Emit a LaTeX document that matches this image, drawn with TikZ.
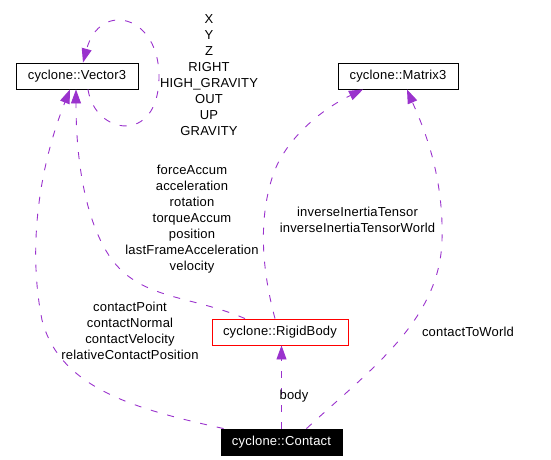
\documentclass[tikz,border=0pt]{standalone}
\usepackage{fontspec}
\setmainfont{Liberation Sans}[LetterSpace=1.5]
\usetikzlibrary{arrows.meta}
\definecolor{orchid}{RGB}{154,50,205}

\begin{document}
\begin{tikzpicture}[x=1pt, y=-1pt,
	classbox/.style={draw, line width=0.9pt, minimum height=26pt, inner sep=0pt, font=\fontsize{13}{16}\selectfont},
	usage/.style={draw=orchid, line width=0.9pt, dash pattern=on 7pt off 10pt, -{Triangle[length=14pt,width=10pt]}},
	lbl/.style={align=center, inner sep=0pt, font=\fontsize{13}{16}\selectfont}]
	\useasboundingbox (0,0) rectangle (551,460);
	
	% Draw the class boxes
	\node[classbox, minimum width=122pt] (vector3) at (77,76) {cyclone::Vector3};
	\node[classbox, minimum width=120pt] (matrix3) at (398,76) {cyclone::Matrix3};
	\node[classbox, draw=red, minimum width=136pt] (rigidbody) at (280,332) {cyclone::RigidBody};
	\node[classbox, fill=black, text=white, minimum width=121pt] (contact) at (281.5,442) {cyclone::Contact};
	
	% Draw the self loop on Vector3
	\draw[usage] ([xshift=11pt]vector3.south) .. controls (95,135) and (158,145) .. (159,78)
		.. controls (160,15) and (100,0) .. ([xshift=6pt]vector3.north);
	\node[lbl] (vecconsts) at (209,75) {X\\Y\\Z\\RIGHT\\HIGH\_GRAVITY\\OUT\\UP\\GRAVITY};
	
	% Draw the RigidBody members
	\draw[usage] ([xshift=-35pt]rigidbody.north) .. controls (190,295) and (140,300) .. (110,257)
		.. controls (85,220) and (76,160) .. ([xshift=-1pt]vector3.south);
	\node[lbl] (bodyvecs) at (192,219.5) {forceAccum\\acceleration\\rotation\\torqueAccum\\position\\lastFrameAcceleration\\velocity};
	
	\draw[usage] ([xshift=-5pt]rigidbody.north) .. controls (262,270) and (258,220) .. (273,175)
		.. controls (285,140) and (320,110) .. ([xshift=-35pt]matrix3.south);
	\node[lbl] (bodymats) at (357.5,220) {inverseInertiaTensor\\inverseInertiaTensorWorld};
	
	% Draw the Contact members
	\draw[usage] ([xshift=3pt]contact.north west) .. controls (140,410) and (60,390) .. (42,320)
		.. controls (28,250) and (38,170) .. ([xshift=-7pt]vector3.south);
	\node[lbl] (contactvecs) at (130,331) {contactPoint\\contactNormal\\contactVelocity\\relativeContactPosition};
	
	\draw[usage] ([xshift=25pt]contact.north) .. controls (370,370) and (440,320) .. (442,240)
		.. controls (444,170) and (420,120) .. ([xshift=9pt]matrix3.south);
	\node[lbl] (contactmat) at (468,332) {contactToWorld};
	
	\draw[usage] (contact.north) -- (contact.north |- rigidbody.south);
	\node[lbl] (bodylbl) at (294,396) {body};
\end{tikzpicture}
\end{document}
